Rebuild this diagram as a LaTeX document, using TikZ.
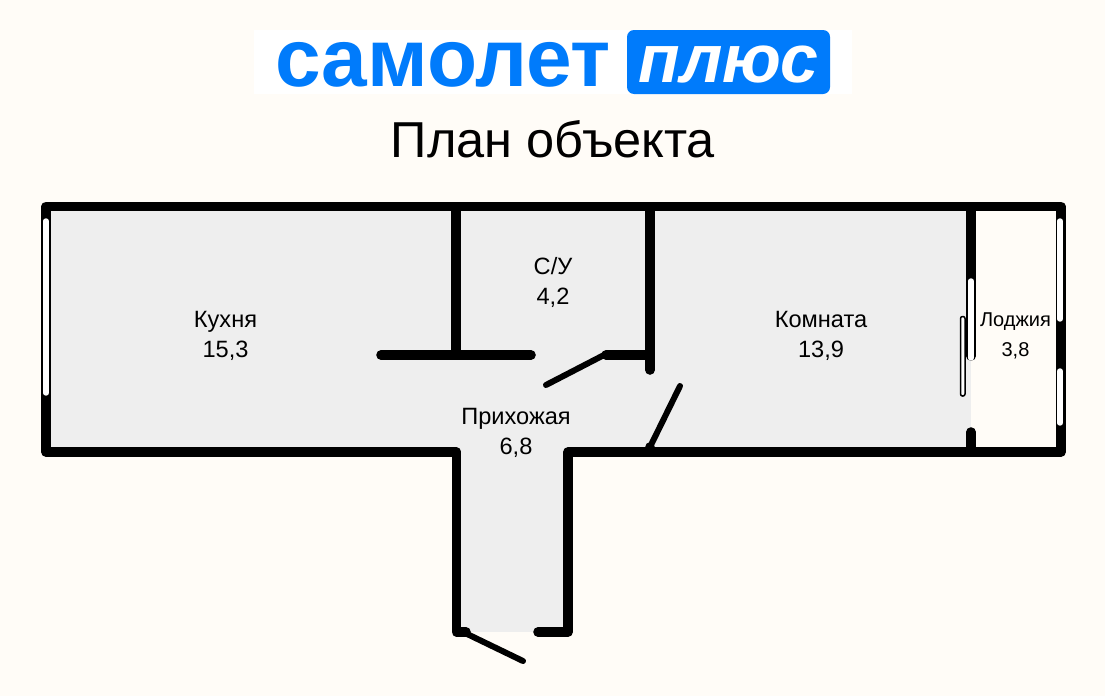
\documentclass[tikz,border=0pt]{standalone}
\usepackage{fontspec}
\setmainfont{Liberation Sans}
\definecolor{bgcream}{HTML}{FFFCF7}
\definecolor{floorgray}{HTML}{EEEEEE}
\definecolor{brandblue}{HTML}{007BFB}
\tikzset{
 wall/.style={line width=9.6pt,line cap=round,line join=round,draw=black},
 leaf/.style={line width=6pt,line cap=round,draw=black},
 slot/.style={draw=white,line width=5.4pt,line cap=round},
 slim/.style={draw=black,fill=white,line width=1.5pt,rounded corners=2pt},
 room/.style={font=\fontsize{23.6}{24}\selectfont,inner sep=0pt,anchor=base},
 roomsmall/.style={font=\fontsize{20}{20}\selectfont,inner sep=0pt,anchor=base},
}
\begin{document}
\begin{tikzpicture}[x=1pt,y=-1pt]
\useasboundingbox (0,0) rectangle (1105,696);
\fill[bgcream] (0,0) rectangle (1105,696);
% logo
\fill[white] (254,30) rectangle (852,94);
\fill[brandblue,rounded corners=7pt] (627,30) rectangle (830,94);
\node[inner sep=0pt,anchor=base,text=brandblue,font=\bfseries\fontsize{82}{82}\selectfont] (brand) at (443,86) {самолет};
\node[inner sep=0pt,anchor=base,text=white,font=\bfseries\itshape\fontsize{68}{68}\selectfont] (plus) at (728.5,82) {плюс};
\node[inner sep=0pt,anchor=base,font=\fontsize{50.5}{50}\selectfont] (title) at (553,157) {План объекта};
% floor
\fill[floorgray] (46,206) rectangle (971,452);
\fill[floorgray] (457,452) rectangle (568,632);
% outer walls
\draw[wall] (456,452) -- (46,452) -- (46,206.5) -- (1061,206.5) -- (1061,452) -- (568,452) -- (568,632) -- (538,632);
\draw[wall] (456.5,452) -- (456.5,632) -- (466,632);
% interior walls
\draw[wall] (456,209) -- (456,355);
\draw[wall] (381,355) -- (531,355);
\draw[wall] (650,209) -- (650,370);
\draw[wall] (650,355) -- (606,355);
\draw[wall] (971,209) -- (971,356);
\draw[wall] (971,432) -- (971,450);
\fill (650,447) circle (4.8pt);
% doors
\draw[leaf] (604,355) -- (546,385);
\draw[leaf] (650,447) -- (680,386);
\draw[leaf] (463,632) -- (523,661);
% windows
\draw[slot] (46,221) -- (46,393);
\draw[slot] (1060,221) -- (1060,319);
\draw[slot] (1060,371) -- (1060,423);
\draw[slot] (971,281) -- (971,358);
\draw[slim] (960.5,316.5) rectangle (965,396);
% labels
\node[room] (kitchen) at (225.5,327) {Кухня};
\node[room] (kitchenA) at (225.5,357) {15,3};
\node[room] (wc) at (553,274) {С/У};
\node[room] (wcA) at (553,304) {4,2};
\node[room] (living) at (821,327) {Комната};
\node[room] (livingA) at (821,357) {13,9};
\node[room] (hall) at (516,424) {Прихожая};
\node[room] (hallA) at (516,454) {6,8};
\node[roomsmall] (logg) at (1015.5,326) {Лоджия};
\node[roomsmall] (loggA) at (1015.5,356) {3,8};
\end{tikzpicture}
\end{document}
